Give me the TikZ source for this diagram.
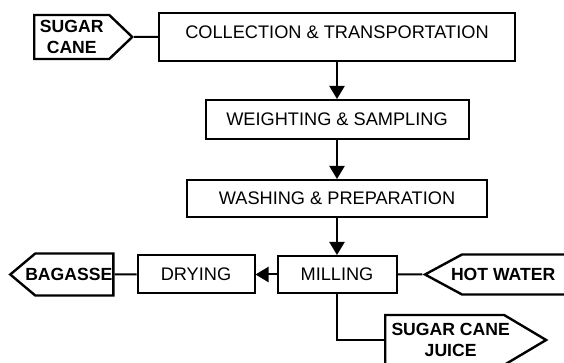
\documentclass[tikz,border=0pt]{standalone}
\usepackage{fontspec}
\setmainfont{Liberation Sans}
\usepackage{tikz}
\usetikzlibrary{arrows.meta}
\usetikzlibrary{positioning}
\usetikzlibrary{shapes.symbols}

\begin{document}
\begin{tikzpicture}[>={Triangle[length=6.5pt, width=7.5pt]}, node distance=20pt]
	\tikzstyle{stepbox} = [draw, line width=1pt, inner sep=0pt, font=\fontsize{9.1}{10.5}\selectfont]
	\tikzstyle{stream} = [draw, line width=1.2pt, signal, inner ysep=1pt, font=\fontsize{8.8}{10.5}\selectfont\bfseries]
	\useasboundingbox (0,0) rectangle (282pt,-181.5pt);

	\path[->, line width=1pt]
	node[stepbox, minimum width=178pt, minimum height=24pt, text depth=4.5pt] (coll) at (168.5pt,-18.5pt) {COLLECTION \& TRANSPORTATION}
	node[stepbox, minimum width=131.5pt, minimum height=19.5pt, below=18.5pt of coll] (weigh) {WEIGHTING \& SAMPLING}
	node[stepbox, minimum width=150pt, minimum height=18.5pt, below=19.5pt of weigh] (wash) {WASHING \& PREPARATION}
	node[stepbox, minimum width=59.5pt, minimum height=18.5pt, below=18.5pt of wash] (mill) {MILLING}
	node[stepbox, minimum width=58.5pt, minimum height=19pt, left=10.5pt of mill] (dry) {DRYING}

	% streams going in and out
	node[stream, align=center, signal to=east, signal pointer angle=87.4, inner xsep=2.85pt, minimum height=22pt, left=12pt of coll] (cane) {SUGAR\\CANE}
	node[stream, signal to=west, signal pointer angle=80.1, inner xsep=-5pt, minimum height=21pt, left=11pt of dry] (bagasse) {BAGASSE\hspace*{5.5pt}}
	node[stream, signal to=west, signal pointer angle=56.8, inner xsep=-5.5pt, minimum height=20pt, right=12.5pt of mill] (hotwater) {HOT WATER\hspace*{16pt}}
	node[stream, align=center, signal to=east, signal pointer angle=61.5, inner xsep=-2.85pt, minimum height=25pt, right=23.5pt of mill.south, yshift=-23pt] (juice) {\hspace*{6pt}SUGAR CANE\\\hspace*{6pt}JUICE}

	(coll) edge (weigh)
	(weigh) edge (wash)
	(wash) edge (mill)
	(mill) edge (dry)
	(cane) edge[-] (coll)
	(bagasse) edge[-] (dry)
	(hotwater) edge[-] (mill)
	;
	% juice leaves the mill from below
	\draw[line width=1pt] (mill) |- (juice);
\end{tikzpicture}
\end{document}
